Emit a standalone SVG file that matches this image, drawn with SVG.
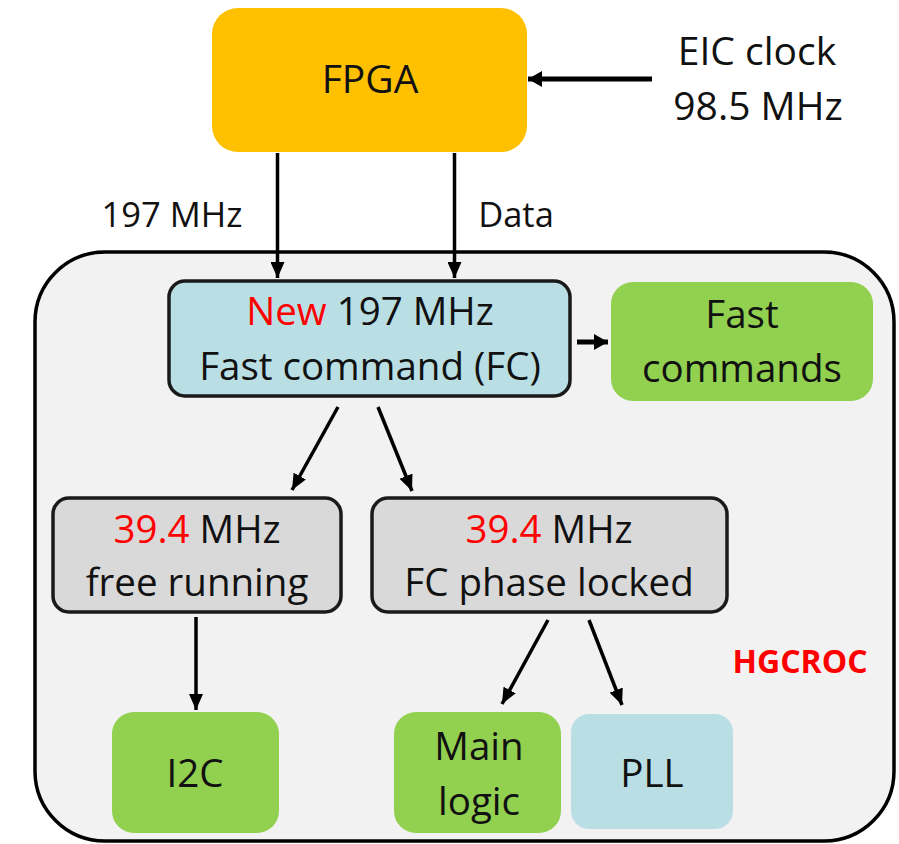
<svg xmlns="http://www.w3.org/2000/svg" width="899" height="844" viewBox="0 0 899 844">
<style>
text{font-family:"Open Sans","Liberation Sans",sans-serif;fill:#111;text-anchor:middle}
.big{font-size:39px}
.mid{font-size:38.5px}
.lbl{font-size:34.5px}
.red{fill:#FF0000}
.hg{font-size:32px;font-weight:bold;fill:#FF0000}
.edge{stroke:#000;stroke-width:3.5;fill:none}
.bold{stroke:#000;stroke-width:5;fill:none}
.outline{stroke:#1a1a1a;stroke-width:3.5}
</style>
<defs>
<marker id="ah" markerUnits="userSpaceOnUse" markerWidth="16" markerHeight="14" refX="16" refY="7" orient="auto"><path d="M0,0 L16,7 L0,14 z" fill="#000"/></marker>
<marker id="ahb" markerUnits="userSpaceOnUse" markerWidth="14" markerHeight="16" refX="14" refY="8" orient="auto"><path d="M0,0 L14,8 L0,16 z" fill="#000"/></marker>
</defs>
<g id="hgcroc"><rect x="35" y="252" width="859" height="589" rx="70" fill="#F2F2F2" stroke="#000" stroke-width="3.5"/><text class="hg" x="800" y="673">HGCROC</text></g>
<g id="fpga"><rect x="212" y="8" width="315" height="144" rx="26" fill="#FFC000"/><text class="big" x="370" y="93">FPGA</text></g>
<g id="eic"><text class="big" x="757" y="65">EIC clock</text><text class="big" x="758" y="120">98.5 MHz</text></g>
<g id="fc"><rect x="169" y="281" width="401" height="115" rx="16" fill="#B9DFE4" class="outline"/><text class="mid" x="370" y="325"><tspan class="red">New</tspan> 197 MHz</text><text class="mid" x="370" y="380">Fast command (FC)</text></g>
<g id="fastcmd"><rect x="611" y="282" width="262" height="119" rx="22" fill="#92D050"/><text class="mid" x="742" y="328">Fast</text><text class="mid" x="742" y="382">commands</text></g>
<g id="free"><rect x="53" y="498" width="288" height="114" rx="16" fill="#D9D9D9" class="outline"/><text class="mid" x="197" y="543"><tspan class="red">39.4</tspan> MHz</text><text class="mid" x="197" y="596">free running</text></g>
<g id="locked"><rect x="372" y="498" width="355" height="114" rx="16" fill="#D9D9D9" class="outline"/><text class="mid" x="549" y="543"><tspan class="red">39.4</tspan> MHz</text><text class="mid" x="549" y="596">FC phase locked</text></g>
<g id="i2c"><rect x="112" y="712" width="167" height="121" rx="22" fill="#92D050"/><text class="mid" x="195" y="787">I2C</text></g>
<g id="mainlogic"><rect x="394" y="712" width="167" height="121" rx="22" fill="#92D050"/><text class="mid" x="479" y="760">Main</text><text class="mid" x="479" y="815">logic</text></g>
<g id="pll"><rect x="571" y="714" width="162" height="115" rx="18" fill="#B9DFE4"/><text class="mid" x="652" y="787">PLL</text></g>
<g id="labels"><text class="lbl" x="172" y="227">197 MHz</text><text class="lbl" x="516" y="227">Data</text></g>
<g id="connectors">
<line class="bold" x1="652" y1="79" x2="528" y2="79" marker-end="url(#ahb)"/>
<line class="edge" x1="277.5" y1="153" x2="277.5" y2="278" marker-end="url(#ah)"/>
<line class="edge" x1="454.5" y1="153" x2="454.5" y2="278" marker-end="url(#ah)"/>
<line class="bold" x1="577" y1="342" x2="608" y2="342" marker-end="url(#ahb)"/>
<line class="edge" x1="338" y1="407" x2="292" y2="490" marker-end="url(#ah)"/>
<line class="edge" x1="378" y1="407" x2="412" y2="491" marker-end="url(#ah)"/>
<line class="edge" x1="196" y1="617" x2="196" y2="710" marker-end="url(#ah)"/>
<line class="edge" x1="548" y1="620" x2="502" y2="704" marker-end="url(#ah)"/>
<line class="edge" x1="589" y1="620" x2="622" y2="705" marker-end="url(#ah)"/>
</g>
</svg>
